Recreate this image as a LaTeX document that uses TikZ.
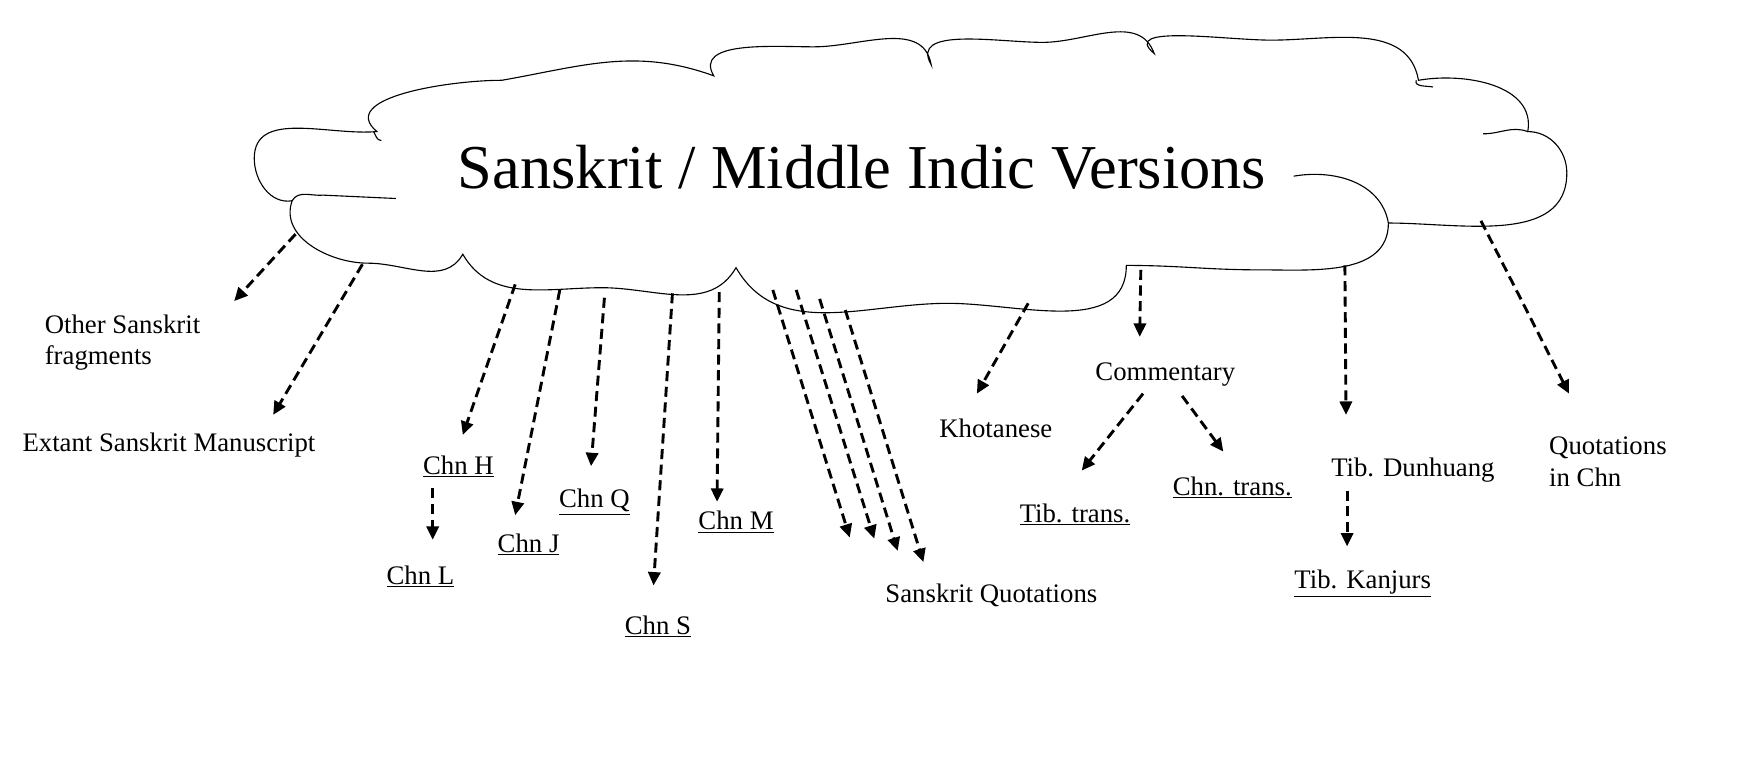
\documentclass[tikz,border=0pt]{standalone}
\usepackage{fontspec}
\setmainfont{Liberation Serif}
\usetikzlibrary{arrows.meta}
\begin{document}
\begin{tikzpicture}[x=1pt,y=-1pt,
  arr/.style={line width=2.6pt,dash pattern=on 9pt off 5pt,-{Triangle[length=12pt,width=11pt]}},
  lab/.style={font=\fontsize{24}{28}\selectfont,inner sep=0pt},
  cl/.style={line width=1pt}]
\useasboundingbox (0,0) rectangle (1563,692);
% cloud
\draw[cl] (262,180) to[out=190,in=270] (228,142) to[out=90,in=185] (338,118)
  to[out=140,in=180] (450,72) to[out=10,in=160] (640,68)
  to[out=120,in=180] (730,42) to[out=0,in=100] (835,58)
  to[out=120,in=180] (935,38) to[out=0,in=110] (1035,48)
  to[out=140,in=180] (1140,36) to[out=0,in=100] (1272,72)
  to[out=10,in=80] (1370,118)
  to[out=0,in=90] (1405,155) to[out=270,in=0] (1245,200)
  to[out=270,in=0] (1130,242) to[out=180,in=0] (1010,238)
  to[out=270,in=0] (850,272) to[out=180,in=300] (660,240)
  to[out=240,in=0] (540,258) to[out=180,in=300] (415,228)
  to[out=240,in=0] (330,236) to[out=180,in=250] (262,180);
\draw[cl] (262,180) to[out=60,in=185] (290,175) -- (355,178);
\draw[cl] (1160,158) to[out=10,in=100] (1245,200);
\draw[cl] (1270,72) to[out=250,in=170] (1285,78);
\draw[cl] (1330,120) to[out=0,in=160] (1370,118);
\draw[cl] (335,118) to[out=300,in=180] (342,126);
\node[font=\fontsize{56}{60}\selectfont,inner sep=0pt] (title) at (773,150) {Sanskrit / Middle Indic Versions};
% labels
\node[lab,anchor=west,align=left] (osf) at (40,307) {Other Sanskrit\\fragments};
\node[lab,anchor=west] (esm) at (20,399) {Extant Sanskrit Manuscript};
\node[lab] (chnH) at (411,418) {\underline{Chn H}};
\node[lab] (chnL) at (377,517) {\underline{Chn L}};
\node[lab] (chnJ) at (474,488) {\underline{Chn J}};
\node[lab] (chnQ) at (533,450) {\underline{Chn Q}};
\node[lab] (chnS) at (590,562) {\underline{Chn S}};
\node[lab] (chnM) at (660,468) {\underline{Chn M}};
\node[lab] (sq) at (889,534) {Sanskrit Quotations};
\node[lab] (kho) at (893,384) {Khotanese};
\node[lab] (com) at (1045,336) {Commentary};
\node[lab] (tibt) at (964,461) {\underline{Tib. trans.}};
\node[lab] (chnt) at (1105,437) {\underline{Chn. trans.}};
\node[lab] (tibd) at (1267,422) {Tib. Dunhuang};
\node[lab] (tibk) at (1222,523) {\underline{Tib. Kanjurs}};
\node[lab,anchor=west,align=left] (qc) at (1389,414) {Quotations\\in Chn};
% arrow coordinates
\foreach \n/\p in {s1/{265,210},e1/{210,270},s2/{325,237},e2/{245,372},
  s3/{462,255},e3/{415,390},s4/{502,260},e4/{462,462},s5/{542,267},e5/{530,418},
  s6/{603,263},e6/{586,525},s7/{645,262},e7/{643,450},
  s8/{693,260},e8/{762,482},s9/{714,260},e9/{784,483},s10/{735,268},e10/{805,494},
  s11/{758,278},e11/{828,504},s12/{922,272},e12/{876,353},s13/{1023,242},e13/{1022,302},
  s14/{1025,353},e14/{970,422},s15/{1060,355},e15/{1097,405},
  s16/{1206,238},e16/{1207,372},s17/{1328,198},e17/{1407,353},
  s18/{388,438},e18/{388,484},s19/{1208,440},e19/{1208,490}}
  {\coordinate (\n) at (\p);}
\foreach \i in {1,...,19}{\draw[arr] (s\i) -- (e\i);}
\end{tikzpicture}
\end{document}
